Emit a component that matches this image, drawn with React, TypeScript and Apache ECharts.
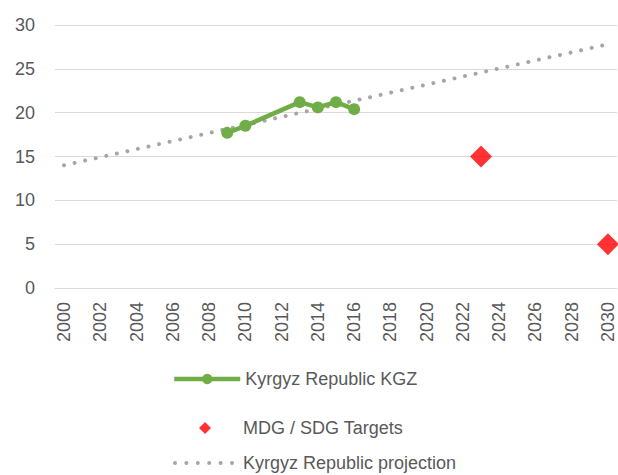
import React, { useEffect, useRef } from "react";
import * as echarts from "echarts";

const years: string[] = [
  "2000", "2001", "2002", "2003", "2004", "2005", "2006", "2007", "2008", "2009",
  "2010", "2011", "2012", "2013", "2014", "2015", "2016", "2017", "2018", "2019",
  "2020", "2021", "2022", "2023", "2024", "2025", "2026", "2027", "2028", "2029", "2030",
];

const kgzYears: string[] = ["2009", "2010", "2013", "2014", "2015", "2016"];
const kgzValues: number[] = [17.7, 18.5, 21.2, 20.6, 21.2, 20.4];

const targetYears: string[] = ["2023", "2030"];
const targetValues: number[] = [15, 5];

const projYears: string[] = ["2000", "2030"];
const projValues: number[] = [14.0, 27.8];

const yTicks = { min: 0, max: 30, interval: 5 };

const toSeries = (ys: string[], vs: number[]) =>
  years.map((y) => {
    const i = ys.indexOf(y);
    return i >= 0 ? vs[i] : null;
  });

const FONT = "'Liberation Sans', Arial, sans-serif";
const TEXT = "#595959";
const GREEN = "#70ad47";
const RED = "#ff0000";
const GRAY = "#a6a6a6";

// legend icons (padded with degenerate subpaths so the box is 66 wide)
const DIAMOND_ICON = "path://M0,6L0,6M27,6L33,0L39,6L33,12ZM66,6L66,6";
const dotsIcon = () => {
  let d = "M0,2L0,2";
  const xs = [3, 14.4, 25.8, 37.2, 48.6, 60];
  xs.forEach((x) => {
    d += `M${x - 2},2a2,2 0 1,0 4,0a2,2 0 1,0 -4,0Z`;
  });
  d += "M66,2L66,2";
  return "path://" + d;
};

export default function App() {
  const ref = useRef<HTMLDivElement>(null);
  useEffect(() => {
    if (!ref.current) return;
    const chart = echarts.init(ref.current, undefined, { renderer: "svg" });
    const legendText = { color: TEXT, fontSize: 18, fontFamily: FONT };
    chart.setOption({
      animation: false,
      textStyle: { fontFamily: FONT },
      grid: { left: 55, right: 1, top: 25, bottom: 187, containLabel: false },
      xAxis: {
        type: "category",
        data: years,
        boundaryGap: true,
        axisLine: { lineStyle: { color: "#d9d9d9", width: 1 } },
        axisTick: { show: false },
        axisLabel: {
          interval: 1,
          rotate: 90,
          margin: 14,
          color: TEXT,
          fontSize: 18,
          fontFamily: FONT,
        },
        splitLine: { show: false },
      },
      yAxis: {
        type: "value",
        min: yTicks.min,
        max: yTicks.max,
        interval: yTicks.interval,
        axisLine: { show: false },
        axisTick: { show: false },
        axisLabel: { margin: 20, color: TEXT, fontSize: 18, fontFamily: FONT },
        splitLine: { lineStyle: { color: "#d9d9d9", width: 1 } },
      },
      legend: [
        {
          data: ["Kyrgyz Republic KGZ"],
          left: 172,
          top: 370,
          padding: 0,
          itemWidth: 66,
          itemHeight: 13,
          lineStyle: { width: 4.5, color: GREEN },
          textStyle: legendText,
        },
        {
          data: [{ name: "MDG / SDG Targets", icon: DIAMOND_ICON }],
          left: 172,
          top: 419,
          padding: 0,
          itemWidth: 66,
          itemHeight: 12,
          textStyle: legendText,
        },
        {
          data: [{ name: "Kyrgyz Republic projection", icon: dotsIcon() }],
          left: 172,
          top: 454,
          padding: 0,
          itemWidth: 66,
          itemHeight: 4,
          textStyle: legendText,
        },
      ],
      series: [
        {
          name: "Kyrgyz Republic projection",
          type: "line",
          data: toSeries(projYears, projValues),
          connectNulls: true,
          symbol: "circle",
          showSymbol: false,
          itemStyle: { color: GRAY },
          lineStyle: { color: GRAY, width: 4, type: [0.01, 10.8], cap: "round" },
          z: 1,
        },
        {
          name: "Kyrgyz Republic KGZ",
          type: "line",
          data: toSeries(kgzYears, kgzValues),
          connectNulls: true,
          symbol: "circle",
          symbolSize: 12,
          itemStyle: { color: GREEN },
          lineStyle: { color: GREEN, width: 4.5 },
          z: 3,
        },
        {
          name: "MDG / SDG Targets",
          type: "scatter",
          data: toSeries(targetYears, targetValues),
          symbol: "diamond",
          symbolSize: 22,
          itemStyle: { color: RED },
          z: 4,
        },
      ],
    });
    return () => chart.dispose();
  }, []);
  return <div ref={ref} style={{ width: 618, height: 475, position: "absolute", left: 0, top: 0 }} />;
}
